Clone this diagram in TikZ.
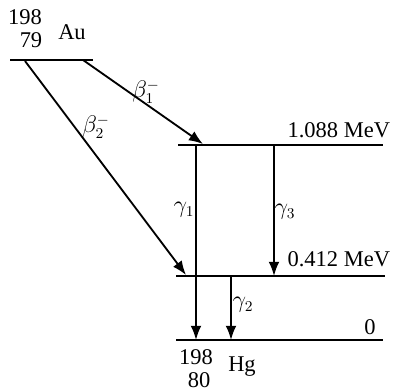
\documentclass[tikz,border=0pt]{standalone}
\usepackage{fontspec}
\setmainfont{Liberation Serif}
\usetikzlibrary{positioning,arrows.meta}

\tikzset{
    level/.style={line width=1.1pt},
    decay/.style={line width=1.1pt, -{Latex[length=8.5pt,width=6.5pt]}},
    lab/.style={inner sep=1pt, font=\fontsize{13.5}{16}\selectfont}
}

\begin{document}
\begin{tikzpicture}[x=0.6pt, y=-0.6pt]
    \useasboundingbox (0, 0) rectangle (399, 392);

    % Energy levels
    \coordinate (au l) at (10, 60);    \coordinate (au r) at (93, 60);
    \coordinate (e1 l) at (178, 145);  \coordinate (e1 r) at (383, 145);
    \coordinate (e2 l) at (176, 276);  \coordinate (e2 r) at (385, 276);
    \coordinate (e0 l) at (176, 340);  \coordinate (e0 r) at (383, 340);
    \draw[level] (au l) -- (au r);
    \draw[level] (e1 l) -- (e1 r);
    \draw[level] (e2 l) -- (e2 r);
    \draw[level] (e0 l) -- (e0 r);

    % Nuclides
    \node[lab] (au mass) at (25, 17) {198};
    \node[lab] (au z) at (31, 40) {79};
    \node[lab] (au) at (72, 32) {Au};
    \node[lab] (hg mass) at (196, 357) {198};
    \node[lab] (hg z) at (199, 380) {80};
    \node[lab] (hg) at (242, 367) {Hg};

    % Level energies
    \node[lab, anchor=east] (e1 txt) at (392, 130) {1.088 MeV};
    \node[lab, anchor=east] (e2 txt) at (392, 259) {0.412 MeV};
    \node[lab] (e0 txt) at (370, 327) {0};

    % Beta decays
    \coordinate (b1 s) at (83, 60);   \coordinate (b1 e) at (203, 144);
    \coordinate (b2 s) at (25, 61);   \coordinate (b2 e) at (186, 275);
    \draw[decay] (b1 s) -- (b1 e);
    \draw[decay] (b2 s) -- (b2 e);
    \node[lab] (b1) at (146, 92) {$\beta_1^-$};
    \node[lab] (b2) at (96, 127) {$\beta_2^-$};

    % Gamma transitions
    \coordinate (g1 s) at (196, 145); \coordinate (g1 e) at (196, 340);
    \coordinate (g3 s) at (274, 145); \coordinate (g3 e) at (274, 276);
    \coordinate (g2 s) at (231, 276); \coordinate (g2 e) at (231, 340);
    \draw[decay] (g1 s) -- (g1 e);
    \draw[decay] (g3 s) -- (g3 e);
    \draw[decay] (g2 s) -- (g2 e);
    \node[lab] (g1) at (184, 210) {$\gamma_1$};
    \node[lab] (g3) at (285, 212) {$\gamma_3$};
    \node[lab] (g2) at (243, 305) {$\gamma_2$};
\end{tikzpicture}
\end{document}
